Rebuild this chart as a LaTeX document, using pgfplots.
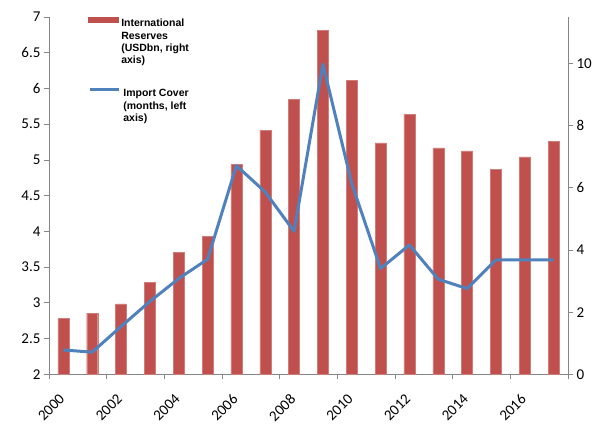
\documentclass[border=0pt]{standalone}
\usepackage{pgfplots}
\pgfplotsset{compat=1.18}
\usepackage{fontspec}
\setmainfont{Carlito}
\newfontfamily\arialfont{Liberation Sans}
\definecolor{barred}{HTML}{C0504D}
\definecolor{lineblue}{HTML}{4F81BD}
\definecolor{axisgray}{HTML}{868686}
\pgfplotsset{
  base/.style={
    scale only axis, width=519pt, height=357.3pt,
    xmin=-0.5, xmax=17.5,
    axis line style={axisgray, line width=0.8pt},
    tick style={axisgray, line width=0.8pt},
    major tick length=5pt,
    tick align=outside,
    ticklabel style={font=\fontsize{15}{18}\selectfont, black},
    /pgf/number format/assume math mode=true,
    legend cell align=left,
  },
  leg/.style={legend style={at={(0.0757,#1)}, anchor=north west, draw=none, fill=none,
    inner sep=0pt, column sep=0pt,
    font=\arialfont\bfseries\fontsize{10.5}{12.3}\selectfont,
    nodes={inner xsep=3pt, inner ysep=0pt}}},
}
\begin{document}
\begin{tikzpicture}
\begin{axis}[base, name=ax, leg=1.0,
  axis y line*=right, axis x line*=bottom,
  ymin=0, ymax=11.5, ytick={0,2,...,10},
  xtick={-0.5,1.5,...,17.5}, xticklabels={},
  extra x ticks={0,2,...,16},
  extra x tick labels={2000,2002,2004,2006,2008,2010,2012,2014,2016},
  extra x tick style={major tick length=0pt, xticklabel style={rotate=45, anchor=north east, xshift=-13.4pt, yshift=-6.4pt}},
]
\addplot[ybar, bar width=11pt, fill=barred, draw=barred!75!white, line width=0.4pt,
  legend image code/.code={\fill[barred] (0pt,1.45pt) rectangle (29.4pt,6.05pt);}] coordinates {
(0,1.80) (1,1.97) (2,2.27) (3,2.95) (4,3.93) (5,4.44) (6,6.75) (7,7.85) (8,8.84)
(9,11.06) (10,9.45) (11,7.45) (12,8.36) (13,7.29) (14,7.19) (15,6.59) (16,7.00) (17,7.49)};
\addlegendentry{\begin{tabular}[t]{@{}l@{}}International\\Reserves\\(USDbn, right\\axis)\end{tabular}}
\end{axis}
\begin{axis}[base, at={(ax.south west)}, anchor=south west, leg=0.801,
  axis y line*=left, axis x line=none,
  ymin=2, ymax=7, ytick={2,2.5,...,7},
]
\addplot[lineblue, line width=3pt, line join=round,
  legend image code/.code={\draw[lineblue, line width=2.5pt] (0pt,3.75pt) -- (29.4pt,3.75pt);}] coordinates {
(0,2.34) (1,2.31) (2,2.67) (3,3.02) (4,3.34) (5,3.61) (6,4.92) (7,4.55) (8,4.00)
(9,6.34) (10,4.67) (11,3.48) (12,3.81) (13,3.33) (14,3.20) (15,3.60) (16,3.60) (17,3.60)};
\addlegendentry{\begin{tabular}[t]{@{}l@{}}Import Cover\\(months, left\\axis)\end{tabular}}
\end{axis}
\path (ax.south west) ++(-49pt,-49.7pt) rectangle ++(611pt,424pt);
\end{tikzpicture}
\end{document}
